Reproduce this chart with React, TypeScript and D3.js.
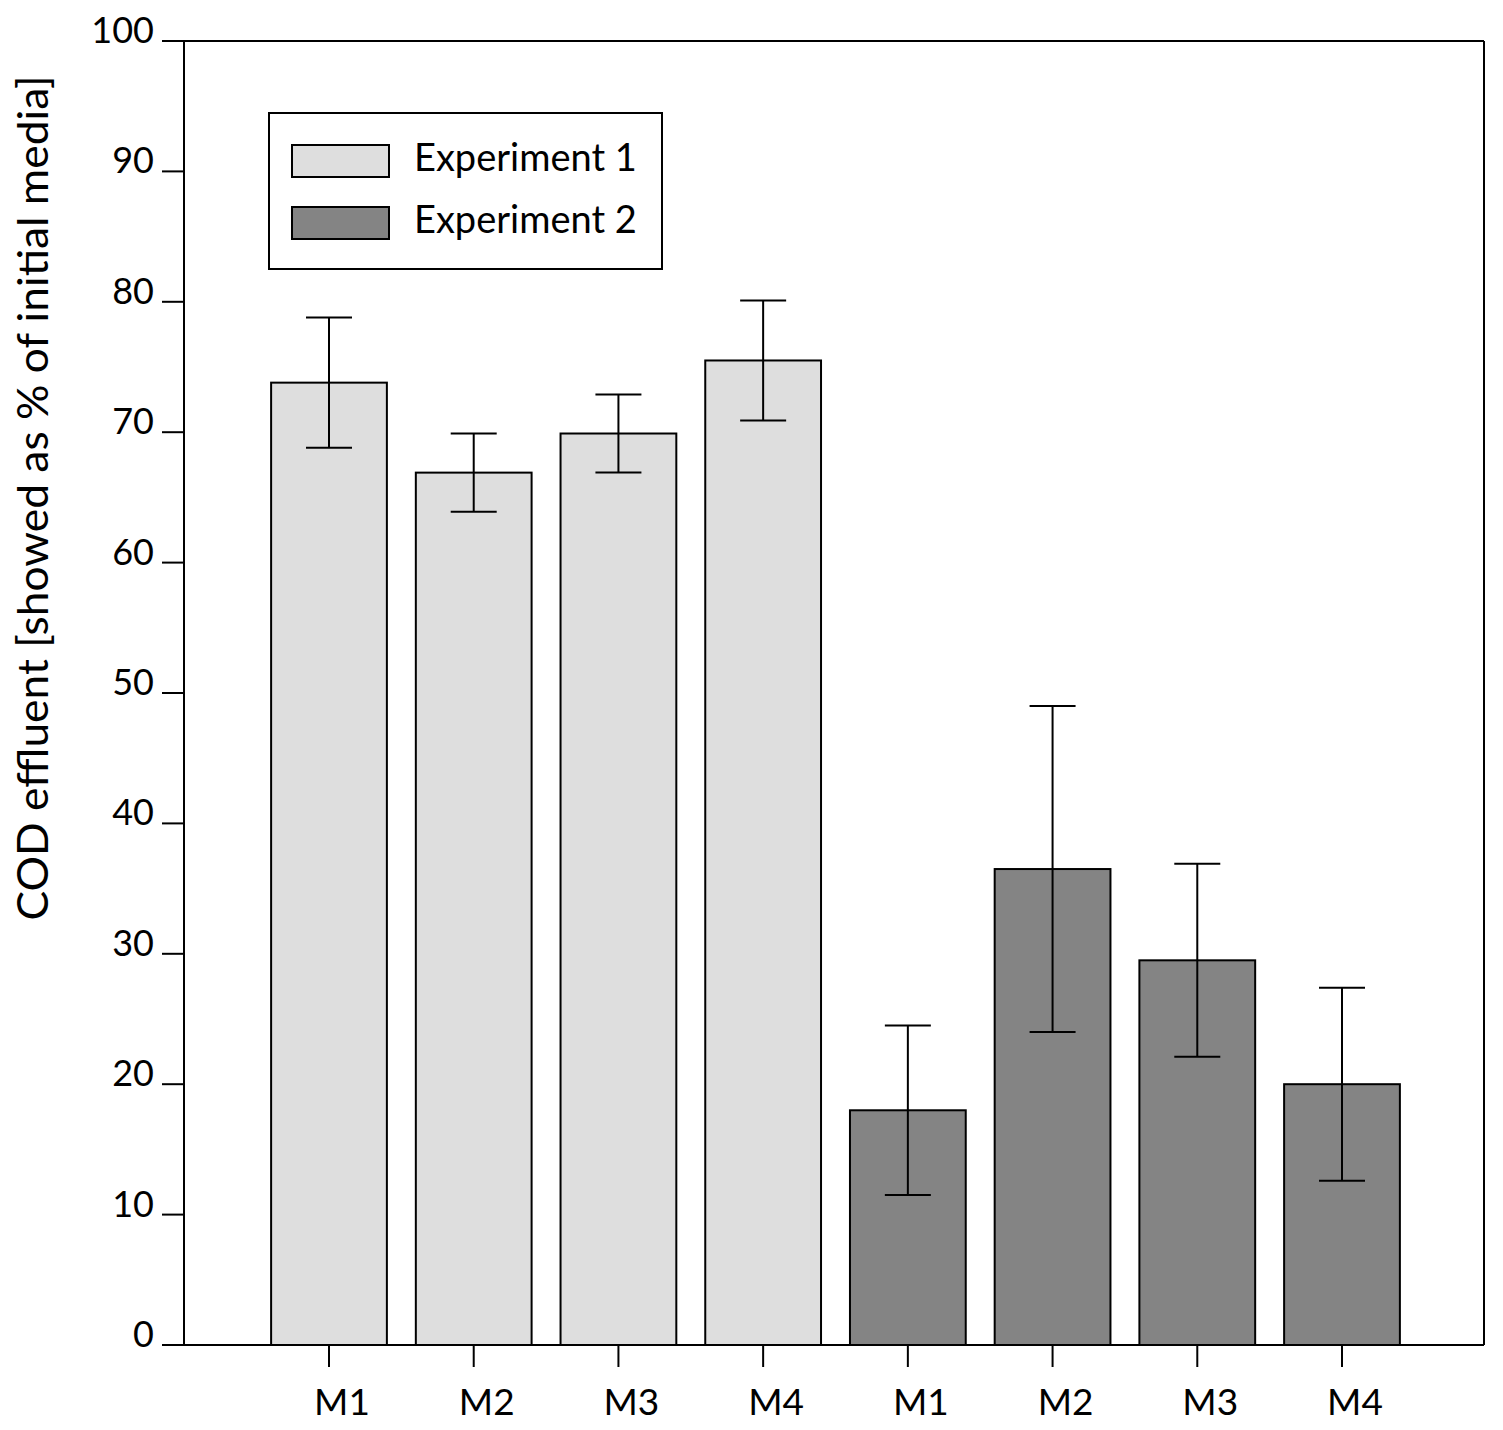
import React from "react";
import * as d3 from "d3";

const categories = ["M1", "M2", "M3", "M4", "M1", "M2", "M3", "M4"];
const exp1Values = [73.8, 66.9, 69.9, 75.5];
const exp1Errors = [5.0, 3.0, 3.0, 4.6];
const exp2Values = [18.0, 36.5, 29.5, 20.0];
const exp2Errors = [6.5, 12.5, 7.4, 7.4];
const yTicks = [0, 10, 20, 30, 40, 50, 60, 70, 80, 90, 100];
const seriesNames = ["Experiment 1", "Experiment 2"];
const yTitle = "COD effluent [showed as % of initial media]";

const colors = ["#dedede", "#848484"];
const FONT = "Lato, 'Open Sans', sans-serif";

export default function App() {
  const W = 1503, H = 1430;
  const left = 184, right = 1484, top = 41, bottom = 1345;
  const y = d3.scaleLinear().domain([0, 100]).range([bottom, top]);
  const x = d3.scaleLinear().domain([1, 8]).range([329, 1342]);
  const step = x(2) - x(1);
  const bw = step * 0.8;
  const capW = 46;

  const bars = [
    ...exp1Values.map((v, i) => ({ v, e: exp1Errors[i], s: 0 })),
    ...exp2Values.map((v, i) => ({ v, e: exp2Errors[i], s: 1 })),
  ].map((d, i) => ({ ...d, pos: i + 1, label: categories[i] }));

  return (
    <div style={{ position: "absolute", left: 0, top: 0 }}>
      <svg width={W} height={H} style={{ display: "block", background: "#fff" }}>
        {/* bars */}
        {bars.map((d, i) => (
          <rect
            key={"b" + i}
            x={x(d.pos) - bw / 2}
            y={y(d.v)}
            width={bw}
            height={y(0) - y(d.v)}
            fill={colors[d.s]}
            stroke="#000"
            strokeWidth={2}
          />
        ))}
        {/* error bars */}
        {bars.map((d, i) => {
          const cx = x(d.pos);
          return (
            <g key={"e" + i} stroke="#000" strokeWidth={2}>
              <line x1={cx} x2={cx} y1={y(d.v - d.e)} y2={y(d.v + d.e)} />
              <line x1={cx - capW / 2} x2={cx + capW / 2} y1={y(d.v + d.e)} y2={y(d.v + d.e)} />
              <line x1={cx - capW / 2} x2={cx + capW / 2} y1={y(d.v - d.e)} y2={y(d.v - d.e)} />
            </g>
          );
        })}
        {/* frame */}
        <g stroke="#000" strokeWidth={2} fill="none">
          <line x1={left} x2={left} y1={top} y2={bottom} />
          <line x1={right} x2={right} y1={top} y2={bottom} />
          <line x1={left} x2={right} y1={top} y2={top} />
          <line x1={left - 22} x2={right} y1={bottom} y2={bottom} />
        </g>
        {/* y ticks */}
        {yTicks.map((t) => (
          <g key={"yt" + t}>
            <line x1={left - 22} x2={left} y1={y(t)} y2={y(t)} stroke="#000" strokeWidth={2} />
            <text
              x={154}
              y={y(t) + 2}
              textAnchor="end"
              fontFamily={FONT}
              fontSize={36}
              fill="#000"
            >
              {t}
            </text>
          </g>
        ))}
        {/* x ticks */}
        {bars.map((d, i) => (
          <g key={"xt" + i}>
            <line x1={x(d.pos)} x2={x(d.pos)} y1={bottom} y2={bottom + 22} stroke="#000" strokeWidth={2} />
            <text
              x={x(d.pos) + 13}
              y={1415}
              textAnchor="middle"
              fontFamily={FONT}
              fontSize={37}
              fill="#000"
            >
              {d.label}
            </text>
          </g>
        ))}
        {/* y title */}
        <text
          transform={`translate(48, 498) rotate(-90)`}
          textAnchor="middle"
          fontFamily={FONT}
          fontSize={42}
          textLength={845}
          lengthAdjust="spacingAndGlyphs"
          fill="#000"
        >
          {yTitle}
        </text>
        {/* legend */}
        <rect x={269} y={113} width={393} height={156} fill="#fff" stroke="#000" strokeWidth={2} />
        {seriesNames.map((n, i) => (
          <g key={"lg" + i}>
            <rect x={292} y={145 + i * 62} width={97} height={32} fill={colors[i]} stroke="#000" strokeWidth={2} />
            <text x={414} y={171 + i * 62} fontFamily={FONT} fontSize={38} fill="#000">
              {n}
            </text>
          </g>
        ))}
      </svg>
    </div>
  );
}
